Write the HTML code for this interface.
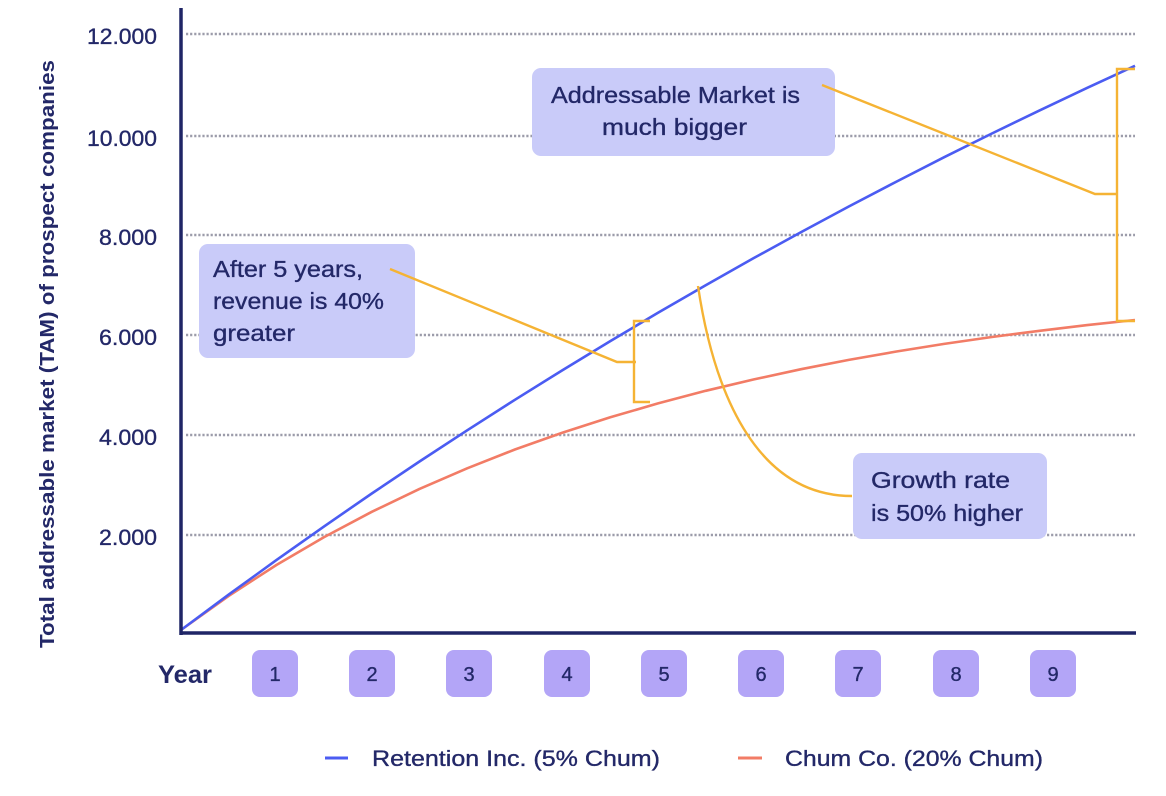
<!DOCTYPE html>
<html>
<head>
<meta charset="utf-8">
<style>
  html,body{margin:0;padding:0;background:#fff;}
  svg{display:block;}
  text{font-family:"Liberation Sans",sans-serif;fill:#232868;}
  .med{stroke:#232868;stroke-width:0.35;}
</style>
</head>
<body>
<svg width="1166" height="796" viewBox="0 0 1166 796" xmlns="http://www.w3.org/2000/svg">
  <rect x="0" y="0" width="1166" height="796" fill="#ffffff"/>

  <!-- gridlines -->
  <g stroke="#9c9caa" stroke-width="2.6" stroke-dasharray="2.2 1.9">
    <line x1="186" y1="34" x2="1135" y2="34"/>
    <line x1="186" y1="136" x2="1135" y2="136"/>
    <line x1="186" y1="235" x2="1135" y2="235"/>
    <line x1="186" y1="335" x2="1135" y2="335"/>
    <line x1="186" y1="435" x2="1135" y2="435"/>
    <line x1="186" y1="535" x2="1135" y2="535"/>
  </g>

  <!-- y tick labels -->
  <g font-size="22" text-anchor="end" class="med">
    <text x="157" y="44" textLength="70" lengthAdjust="spacingAndGlyphs">12.000</text>
    <text x="157" y="146" textLength="70" lengthAdjust="spacingAndGlyphs">10.000</text>
    <text x="157" y="245" textLength="58" lengthAdjust="spacingAndGlyphs">8.000</text>
    <text x="157" y="345" textLength="58" lengthAdjust="spacingAndGlyphs">6.000</text>
    <text x="157" y="445" textLength="58" lengthAdjust="spacingAndGlyphs">4.000</text>
    <text x="157" y="545" textLength="58" lengthAdjust="spacingAndGlyphs">2.000</text>
  </g>

  <!-- y axis title -->
  <text transform="translate(54,354) rotate(-90)" text-anchor="middle" font-size="20" font-weight="bold" textLength="588" lengthAdjust="spacingAndGlyphs">Total addressable market (TAM) of prospect companies</text>

  <!-- annotation boxes -->
  <rect x="532" y="68" width="303" height="88" rx="9" fill="#c9cbf9"/>
  <rect x="199" y="244" width="216" height="114" rx="9" fill="#c9cbf9"/>
  <rect x="853" y="453" width="194" height="86" rx="9" fill="#c9cbf9"/>

  <!-- series -->
  <polyline fill="none" stroke="#f27c66" stroke-width="2.6" stroke-linejoin="round"
    points="181,630 228.7,595.9 276.4,565 324.1,537.1 371.8,511.8 419.5,488.9 467.2,468.3 514.9,449.5 562.6,432.6 610.3,417.3 658,403.4 705.7,390.8 753.4,379.5 801.1,369.2 848.8,359.9 896.5,351.5 944.2,343.9 991.9,337 1039.6,330.8 1087.3,325.1 1135,320"/>
  <polyline fill="none" stroke="#4b5cf2" stroke-width="2.6" stroke-linejoin="round"
    points="181,630 228.7,594.6 276.4,560.1 324.1,526.4 371.8,493.5 419.5,461.5 467.2,430.3 514.9,399.8 562.6,370.1 610.3,341.1 658,312.8 705.7,285.2 753.4,258.3 801.1,232.1 848.8,206.5 896.5,181.6 944.2,157.2 991.9,133.5 1039.6,110.4 1087.3,87.8 1135,65.8"/>

  <!-- annotation connectors / brackets -->
  <g fill="none" stroke="#f5b334" stroke-width="2.4" stroke-linejoin="miter">
    <polyline points="390,269 617,362 636,362"/>
    <polyline points="650,321 634,321 634,402 650,402"/>
    <polyline points="822,85 1095,194 1117,194"/>
    <polyline points="1135,69 1117,69 1117,321 1135,321"/>
    <path d="M698,286 C715,400 760,496 852,496"/>
  </g>

  <!-- annotation text -->
  <g font-size="23" class="med">
    <text x="551" y="103" textLength="249" lengthAdjust="spacingAndGlyphs">Addressable Market is</text>
    <text x="602" y="135" textLength="145" lengthAdjust="spacingAndGlyphs">much bigger</text>
    <text x="213" y="277" textLength="150" lengthAdjust="spacingAndGlyphs">After 5 years,</text>
    <text x="213" y="309" textLength="171" lengthAdjust="spacingAndGlyphs">revenue is 40%</text>
    <text x="213" y="341" textLength="82" lengthAdjust="spacingAndGlyphs">greater</text>
    <text x="871" y="488" textLength="139" lengthAdjust="spacingAndGlyphs">Growth rate</text>
    <text x="871" y="521" textLength="152" lengthAdjust="spacingAndGlyphs">is 50% higher</text>
  </g>

  <!-- axes -->
  <line x1="181" y1="8" x2="181" y2="635" stroke="#1f2566" stroke-width="3.5"/>
  <line x1="179.5" y1="633" x2="1136" y2="633" stroke="#1f2566" stroke-width="3.5"/>

  <!-- x axis year labels -->
  <text x="158" y="683" font-size="25" font-weight="bold" textLength="54" lengthAdjust="spacingAndGlyphs">Year</text>
  <g fill="#b3a5f7">
    <rect x="252" y="650" width="46" height="47" rx="8"/>
    <rect x="349" y="650" width="46" height="47" rx="8"/>
    <rect x="446" y="650" width="46" height="47" rx="8"/>
    <rect x="544" y="650" width="46" height="47" rx="8"/>
    <rect x="641" y="650" width="46" height="47" rx="8"/>
    <rect x="738" y="650" width="46" height="47" rx="8"/>
    <rect x="835" y="650" width="46" height="47" rx="8"/>
    <rect x="933" y="650" width="46" height="47" rx="8"/>
    <rect x="1030" y="650" width="46" height="47" rx="8"/>
  </g>
  <g font-size="20" text-anchor="middle" class="med">
    <text x="275" y="681">1</text>
    <text x="372" y="681">2</text>
    <text x="469" y="681">3</text>
    <text x="567" y="681">4</text>
    <text x="664" y="681">5</text>
    <text x="761" y="681">6</text>
    <text x="858" y="681">7</text>
    <text x="956" y="681">8</text>
    <text x="1053" y="681">9</text>
  </g>

  <!-- legend -->
  <line x1="325" y1="758" x2="348" y2="758" stroke="#4b5cf2" stroke-width="3"/>
  <text x="372" y="766" font-size="22" class="med" textLength="288" lengthAdjust="spacingAndGlyphs">Retention Inc. (5% Chum)</text>
  <line x1="738" y1="758" x2="762" y2="758" stroke="#f27c66" stroke-width="3"/>
  <text x="785" y="766" font-size="22" class="med" textLength="258" lengthAdjust="spacingAndGlyphs">Chum Co. (20% Chum)</text>
</svg>
</body>
</html>
